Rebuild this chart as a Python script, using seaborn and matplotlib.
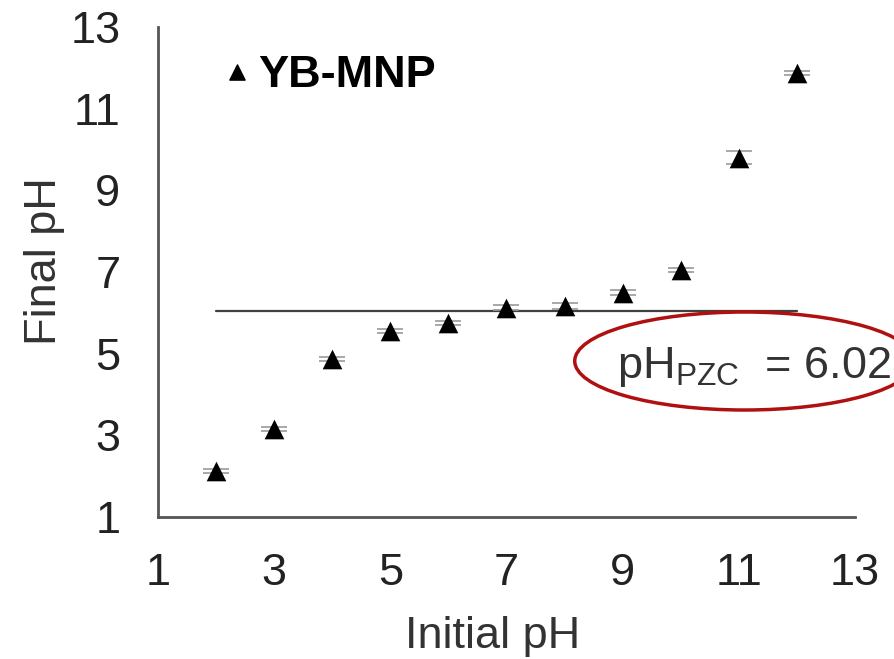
import matplotlib
matplotlib.use("Agg")
import matplotlib.pyplot as plt
from matplotlib.patches import Ellipse
import seaborn as sns
import pandas as pd

initial_ph = [2, 3, 4, 5, 6, 7, 8, 9, 10, 11, 12]
final_ph = [2.12, 3.16, 4.87, 5.56, 5.75, 6.12, 6.17, 6.49, 7.05, 9.80, 11.88]
err = [0.05, 0.05, 0.06, 0.05, 0.05, 0.06, 0.07, 0.06, 0.05, 0.16, 0.05]
pzc_x = [2, 12]
pzc_y = [6.05, 6.05]
ticks = [1, 3, 5, 7, 9, 11, 13]

df = pd.DataFrame({"Initial pH": initial_ph, "Final pH": final_ph})

sns.set_style("white")
plt.rcParams["font.family"] = ["Liberation Sans", "DejaVu Sans"]
FS = 32.5

fig = plt.figure(figsize=(8.95, 6.59), dpi=100)
ax = fig.add_axes([0.1765, 0.2155, 0.7788, 0.7435])

ax.errorbar(initial_ph, final_ph, yerr=err, fmt="none", ecolor="#999999",
            elinewidth=1.0, capsize=9.5, capthick=1.2, zorder=2)
sns.lineplot(x=pzc_x, y=pzc_y, color="#404040", linewidth=1.6, ax=ax, zorder=1)
sns.scatterplot(data=df, x="Initial pH", y="Final pH", marker="^", s=200,
                color="black", edgecolor="black", linewidth=0, ax=ax, zorder=3)

ax.set_xlim(1, 13)
ax.set_ylim(1, 13)
ax.set_xticks(ticks)
ax.set_yticks(ticks)
ax.set_xlabel("Initial pH", fontsize=FS, color="#333333")
ax.set_ylabel("Final pH", fontsize=FS, color="#333333")
ax.xaxis.set_label_coords(0.48, -0.202)
ax.yaxis.set_label_coords(-0.1334, 0.5224)
ax.tick_params(axis="both", labelsize=FS, colors="#222222", direction="out",
               length=11, width=1.6)
ax.tick_params(axis="x", pad=15)
ax.tick_params(axis="y", pad=16)
for s in ["top", "right"]:
    ax.spines[s].set_visible(False)
for s in ["left", "bottom"]:
    ax.spines[s].set_color("#555555")
    ax.spines[s].set_linewidth(2)

# legend-like label
ax.scatter([2.36], [11.9], marker="^", s=120, color="black", zorder=3)
ax.text(2.72, 11.53, "YB-MNP", fontsize=FS, fontweight="bold", va="baseline",
        ha="left", color="black")

# PZC annotation
ax.text(8.9, 4.40, r"pH$_{\mathregular{PZC}}$  = 6.02", fontsize=FS, va="baseline",
        ha="left", color="#333333")
ell = Ellipse((11.1, 4.82), width=5.85, height=2.4, fill=False,
              edgecolor="#b01010", linewidth=2.5, clip_on=False)
ax.add_patch(ell)

fig.savefig("out.png", dpi=100)
